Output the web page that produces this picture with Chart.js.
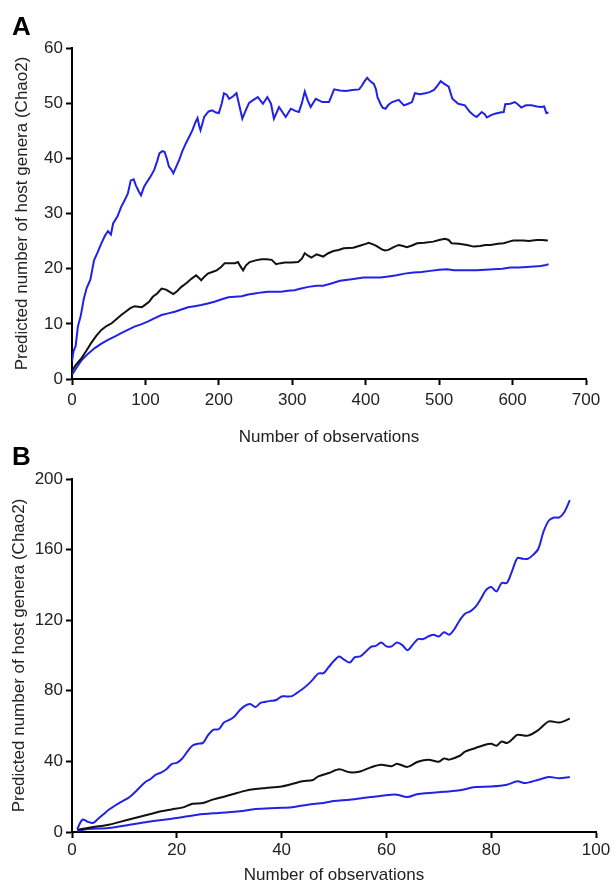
<!DOCTYPE html>
<html>
<head>
<meta charset="utf-8">
<script src="https://cdn.jsdelivr.net/npm/chart.js@4"></script>
<style>
    body { margin: 0; background: #fff; width: 616px; height: 884px; position: relative; overflow: hidden; }
    canvas { position: absolute; left: 0; }
    #chartA { top: 0; }
    #chartB { top: 450px; }
    .panel-label { position: absolute; left: 12px; font: bold 26px "Liberation Sans", Arial, sans-serif; line-height: 26px; color: #000; z-index: 2; }
</style>
</head>
<body>
<div class="panel-label" style="top: 13px;">A</div>
<div class="panel-label" style="top: 443px;">B</div>
<canvas id="chartA" width="616" height="450"></canvas>
<canvas id="chartB" width="616" height="434"></canvas>
<script>
// Panel A - all observations (upper bound, Chao2 estimate, lower bound)
const aUpperObs = [0, 2, 5, 8, 12, 16, 20, 25, 30, 35, 40, 45, 49, 53, 56, 62, 67, 72, 76, 80, 84, 87, 91, 94, 98, 101, 106, 112, 116, 119, 123, 126, 129, 132, 135, 138, 142, 146, 150, 155, 160, 164, 168, 171, 173, 175, 178, 180, 186, 191, 196, 200, 204, 207, 211, 214, 219, 224, 228, 232, 236, 241, 246, 253, 260, 266, 271, 275, 282, 286, 291, 298, 304, 309, 313, 317, 321, 325, 332, 341, 350, 354, 357, 365, 373, 382, 391, 395, 398, 402, 406, 411, 414, 416, 420, 423, 427, 431, 436, 445, 452, 458, 463, 467, 474, 481, 487, 493, 498, 502, 507, 513, 518, 526, 535, 542, 547, 551, 558, 562, 565, 570, 576, 583, 588, 590, 597, 603, 607, 612, 618, 626, 633, 639, 643, 646, 649];
const aUpperChao = [3.2, 5, 6, 9.5, 11.5, 14.5, 16.5, 18, 21.5, 23, 24.6, 26, 26.8, 26.2, 28.2, 29.5, 31.2, 32.5, 33.6, 36, 36.2, 35.1, 34, 33.3, 34.8, 35.5, 36.5, 37.9, 39.5, 40.9, 41.3, 41.2, 40, 38.5, 38, 37.3, 38.5, 39.7, 41.2, 42.7, 44, 45.1, 46.5, 47.3, 46, 45.1, 46.5, 47.5, 48.5, 48.7, 48.3, 48.2, 50, 51.8, 51.5, 50.8, 51.2, 51.8, 49.5, 47.2, 48.5, 50, 50.5, 51.1, 49.9, 51.1, 49.9, 47.2, 49.3, 48.5, 47.5, 49, 48.6, 48.4, 50, 52.1, 50.5, 49.3, 50.8, 50.2, 50.2, 51.5, 52.5, 52.3, 52.2, 52.4, 52.5, 53.2, 53.9, 54.6, 54, 53.5, 52.5, 51.1, 49.9, 49.2, 49, 49.7, 50.2, 50.6, 49.6, 49.9, 50.2, 51.8, 51.6, 51.8, 52, 52.4, 53.2, 54, 53.5, 53, 50.8, 49.9, 49.6, 48.4, 47.8, 47.5, 48.4, 48, 47.4, 47.8, 48.1, 48.3, 48.4, 49.8, 49.9, 50.2, 49.8, 49.2, 49.6, 49.6, 49.4, 49.3, 49.4, 48.2, 48.3];

const aMeanObs = [0, 5, 13, 20, 26, 33, 40, 47, 54, 60, 67, 73, 79, 85, 90, 95, 99, 105, 110, 116, 122, 128, 133, 138, 143, 149, 156, 163, 169, 173, 176, 180, 185, 191, 197, 203, 208, 215, 222, 226, 229, 233, 237, 242, 250, 258, 265, 272, 278, 284, 290, 299, 308, 313, 317, 321, 326, 333, 342, 349, 356, 363, 370, 383, 393, 400, 404, 410, 415, 422, 426, 431, 438, 445, 451, 456, 463, 470, 480, 492, 500, 508, 513, 517, 527, 538, 547, 556, 563, 570, 580, 588, 595, 601, 608, 615, 622, 633, 640, 648];
const aMeanChao = [1.5, 2.5, 3.8, 5.2, 6.5, 7.8, 8.9, 9.6, 10.1, 10.8, 11.6, 12.2, 12.8, 13.2, 13.1, 13, 13.4, 14, 14.9, 15.5, 16.4, 16.2, 15.8, 15.4, 15.9, 16.7, 17.4, 18.2, 18.8, 18.3, 17.9, 18.5, 19.1, 19.4, 19.7, 20.3, 21, 21, 21, 21.2, 20.5, 19.7, 20.6, 21.2, 21.5, 21.7, 21.7, 21.6, 20.8, 21, 21.1, 21.1, 21.2, 21.8, 22.8, 22.4, 22, 22.6, 22.2, 22.8, 23.2, 23.4, 23.7, 23.8, 24.2, 24.5, 24.7, 24.4, 24.1, 23.5, 23.3, 23.4, 23.9, 24.3, 24.1, 23.9, 24.2, 24.6, 24.7, 24.9, 25.2, 25.4, 25.2, 24.6, 24.5, 24.3, 24, 24.1, 24.3, 24.3, 24.5, 24.6, 24.9, 25.1, 25.1, 25.1, 25, 25.2, 25.2, 25.1];

const aLowerObs = [0, 5, 13, 22, 31, 40, 49, 58, 67, 76, 85, 94, 103, 112, 122, 131, 140, 149, 158, 167, 176, 185, 194, 203, 213, 222, 231, 240, 249, 258, 267, 276, 285, 294, 303, 312, 322, 333, 342, 353, 365, 381, 397, 408, 420, 431, 442, 453, 465, 476, 488, 500, 511, 520, 535, 551, 563, 574, 586, 597, 608, 620, 629, 638, 644, 649];
const aLowerChao = [0.8, 1.8, 3.4, 4.6, 5.6, 6.4, 7.1, 7.7, 8.3, 8.9, 9.5, 9.9, 10.4, 11, 11.6, 11.9, 12.2, 12.6, 13, 13.2, 13.4, 13.7, 14, 14.4, 14.8, 14.9, 15, 15.3, 15.5, 15.7, 15.8, 15.8, 15.8, 16, 16.1, 16.4, 16.7, 16.9, 16.9, 17.3, 17.8, 18.1, 18.4, 18.4, 18.4, 18.6, 18.8, 19.1, 19.3, 19.4, 19.6, 19.8, 19.9, 19.7, 19.7, 19.7, 19.8, 19.9, 20, 20.2, 20.2, 20.3, 20.4, 20.5, 20.6, 20.8];

const aXTicks = [0, 100, 200, 300, 400, 500, 600, 700];
const aYTicks = [0, 10, 20, 30, 40, 50, 60];

// Panel B
const bUpperObs = [1, 2, 3, 4, 5, 6, 7, 8, 9, 10, 11, 12, 13, 14, 15, 16, 17, 18, 19, 20, 21, 22, 23, 24, 25, 26, 27, 28, 29, 30, 31, 32, 33, 34, 35, 36, 37, 38, 39, 40, 41, 42, 43, 44, 45, 46, 47, 48, 49, 50, 51, 52, 53, 54, 55, 56, 57, 58, 59, 60, 61, 62, 63, 64, 65, 66, 67, 68, 69, 70, 71, 72, 73, 74, 75, 76, 77, 78, 79, 80, 81, 82, 83, 84, 85, 86, 87, 88, 89, 90, 91, 92, 93, 94, 95];
const bUpperChao = [1.7, 7, 5.8, 5.1, 7.5, 10, 12.6, 14.6, 16.4, 18, 19.8, 22.5, 25.5, 28.3, 30, 32.5, 33.6, 35.5, 38.5, 39.2, 41.5, 45.5, 49, 50, 50.5, 55, 58, 58.2, 62, 63.5, 65.5, 69, 71.5, 72.5, 70.8, 73.2, 73.8, 74.3, 74.8, 76.8, 76.8, 77, 79, 81, 83.5, 86.5, 89.8, 90, 93.5, 97, 99.5, 97.5, 96, 99.1, 99.5, 102, 104.8, 105.5, 107.4, 105.2, 105.2, 107.4, 106, 103, 106, 109.3, 109.3, 110.8, 111.8, 110.8, 113.2, 111.8, 115, 120, 123.7, 125, 127.5, 132, 137, 138.8, 136.3, 141.1, 141.1, 148, 155.2, 154.8, 154.8, 157, 160.5, 170.3, 176.5, 178.2, 178.2, 181.5, 188];

const bMeanObs = [1, 3, 5, 7, 9, 12, 15, 17, 19, 21, 23, 25, 27, 29, 31, 33, 35, 37, 40, 42, 44, 46, 47, 49, 51, 53, 55, 57, 59, 61, 62, 64, 66, 68, 70, 71, 72, 74, 75, 77, 79, 80, 81, 82, 83, 84, 85, 87, 89, 91, 93, 95];
const bMeanChao = [1.2, 2.3, 3.2, 4.1, 5.6, 7.9, 10.2, 11.7, 12.8, 13.8, 16, 16.4, 18.5, 20, 21.7, 23.3, 24.3, 24.9, 25.8, 27.2, 28.7, 29.5, 31.5, 33.4, 35.5, 33.8, 34.3, 36.6, 38.1, 37.2, 38.7, 36.9, 39.8, 41, 39.8, 41.7, 41, 43.2, 45.5, 47.6, 49.6, 50, 48.9, 51.3, 50.4, 52.5, 55.1, 54.6, 57.8, 62.7, 62, 64.2];

const bLowerObs = [1, 3, 7, 11, 15, 20, 24, 28, 32, 35, 39, 42, 45, 48, 50, 53, 57, 61, 62, 64, 66, 71, 74, 77, 80, 83, 85, 86.5, 89, 91, 93, 95];
const bLowerChao = [0.6, 1.7, 2.3, 4.1, 6, 7.9, 9.8, 10.8, 11.7, 13, 13.6, 14, 15.5, 16.4, 17.5, 18.3, 19.8, 21.1, 21.1, 19.8, 21.5, 22.8, 23.6, 25.5, 25.8, 26.8, 28.7, 27.7, 29.6, 31.2, 30.4, 31.1];

const bXTicks = [0, 20, 40, 60, 80, 100];
const bYTicks = [0, 40, 80, 120, 160, 200];

const BLUE = '#2222e6';
const BLACK = '#111111';
const FONT = '"Liberation Sans", Arial, sans-serif';

function toPoints(xs, ys) {
    return xs.map((x, i) => ({ x: x, y: ys[i] }));
}

function lineSet(xs, ys, color, tension) {
    return {
        data: toPoints(xs, ys),
        borderColor: color,
        borderWidth: 2,
        pointRadius: 0,
        tension: tension,
        fill: false
    };
}

// axis styling shared by both panels
function axis(ticksList, opts) {
    return {
        type: 'linear',
        min: ticksList[0],
        max: ticksList[ticksList.length - 1],
        afterBuildTicks: scale => { scale.ticks = ticksList.map(v => ({ value: v })); },
        afterFit: scale => {
            if (opts.width) scale.width = opts.width;
            if (opts.height) scale.height = opts.height;
        },
        border: { display: true, color: '#000', width: 2 },
        grid: { drawOnChartArea: false, drawTicks: true, tickLength: 6, tickWidth: 2, tickColor: '#000' },
        ticks: { padding: opts.tickPad, color: '#222', font: { family: FONT, size: 17 } },
        title: {
            display: true,
            text: opts.title,
            color: '#222',
            font: { family: FONT, size: 17, lineHeight: 1 },
            padding: opts.titlePad
        }
    };
}

function makeChart(id, datasets, xTicks, yTicks, cfg) {
    const ctx = document.getElementById(id).getContext('2d');
    return new Chart(ctx, {
        type: 'line',
        data: { datasets: datasets },
        options: {
            responsive: false,
            animation: false,
            devicePixelRatio: 1,
            layout: { padding: cfg.padding },
            plugins: { legend: { display: false }, tooltip: { enabled: false } },
            scales: {
                x: axis(xTicks, { height: cfg.xHeight, tickPad: cfg.xTickPad, title: 'Number of observations', titlePad: { top: 0, bottom: cfg.xTitlePad } }),
                y: axis(yTicks, { width: 72, tickPad: 3, title: 'Predicted number of host genera (Chao2)', titlePad: { top: cfg.yTitlePad, bottom: 0 } })
            }
        }
    });
}

makeChart('chartA', [
    lineSet(aUpperObs, aUpperChao, BLUE, 0),
    lineSet(aMeanObs, aMeanChao, BLACK, 0),
    lineSet(aLowerObs, aLowerChao, BLUE, 0)
], aXTicks, aYTicks, {
    padding: { left: 0, right: 30, top: 48, bottom: 0 },
    xHeight: 71, xTickPad: 5, xTitlePad: 4, yTitlePad: 14
});

makeChart('chartB', [
    lineSet(bUpperObs, bUpperChao, BLUE, 0.3),
    lineSet(bMeanObs, bMeanChao, BLACK, 0.3),
    lineSet(bLowerObs, bLowerChao, BLUE, 0.3)
], bXTicks, bYTicks, {
    padding: { left: 0, right: 20, top: 29, bottom: 0 },
    xHeight: 52, xTickPad: 2, xTitlePad: 0, yTitlePad: 11
});
</script>
</body>
</html>
